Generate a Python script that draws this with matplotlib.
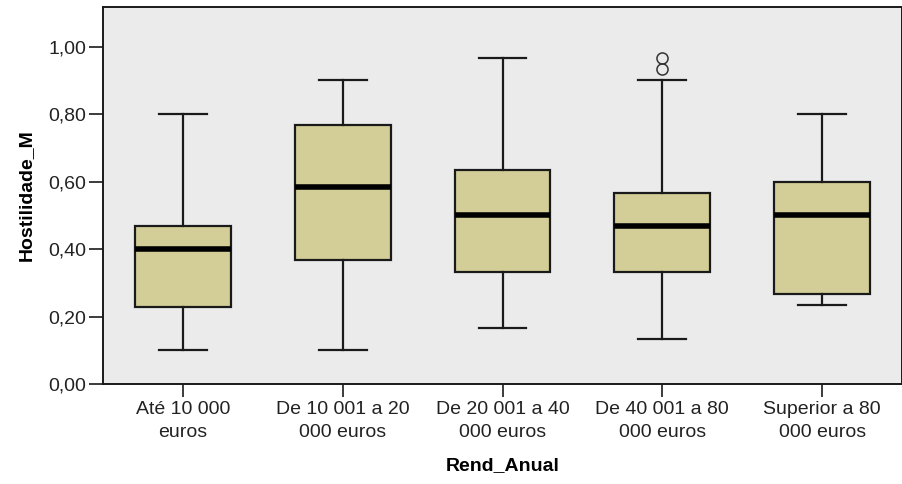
import matplotlib
matplotlib.use("Agg")
import matplotlib.pyplot as plt
from matplotlib.ticker import FuncFormatter

# Box statistics
categories = [
    "Até 10 000\neuros",
    "De 10 001 a 20\n000 euros",
    "De 20 001 a 40\n000 euros",
    "De 40 001 a 80\n000 euros",
    "Superior a 80\n000 euros",
]
whisk_low = [0.10, 0.10, 0.167, 0.133, 0.233]
q1 = [0.229, 0.367, 0.333, 0.333, 0.267]
median = [0.40, 0.583, 0.50, 0.467, 0.50]
q3 = [0.467, 0.767, 0.633, 0.567, 0.60]
whisk_high = [0.80, 0.90, 0.967, 0.90, 0.80]
outliers = [[], [], [], [0.935, 0.967], []]

box_fill = "#D3CE98"
panel_bg = "#EBEBEB"

plt.rcParams["font.family"] = ["Liberation Sans", "DejaVu Sans"]

fig = plt.figure(figsize=(9.03, 4.84), dpi=100)
ax = fig.add_axes([103 / 903, 100 / 484, 799 / 903, 377 / 484])
ax.set_facecolor(panel_bg)

stats = []
for i in range(len(categories)):
    stats.append({
        "whislo": whisk_low[i],
        "q1": q1[i],
        "med": median[i],
        "q3": q3[i],
        "whishi": whisk_high[i],
        "fliers": outliers[i],
    })

ax.bxp(
    stats,
    positions=range(1, len(categories) + 1),
    widths=0.6,
    patch_artist=True,
    showfliers=True,
    boxprops=dict(facecolor=box_fill, edgecolor="#1a1a1a", linewidth=1.6),
    medianprops=dict(color="black", linewidth=4.0, solid_capstyle="butt"),
    whiskerprops=dict(color="#1a1a1a", linewidth=1.6),
    capprops=dict(color="#1a1a1a", linewidth=1.6),
    capwidths=0.3,
    flierprops=dict(marker="o", markersize=8, markerfacecolor="none",
                    markeredgecolor="#333333", markeredgewidth=1.1),
)

ax.set_xlim(0.5, 5.5)
ax.set_ylim(0, 1.1177)
ax.set_yticks([0, 0.2, 0.4, 0.6, 0.8, 1.0])
ax.yaxis.set_major_formatter(FuncFormatter(lambda v, p: f"{v:.2f}".replace(".", ",")))
ax.set_xticks(range(1, len(categories) + 1))
ax.set_xticklabels(categories, fontsize=14, linespacing=1.45)
ax.tick_params(axis="y", labelsize=14, length=10, width=1.2, pad=2, colors="#1a1a1a")
ax.tick_params(axis="x", length=9, width=1.2, pad=3, colors="#1a1a1a")
for lbl in ax.get_yticklabels() + ax.get_xticklabels():
    lbl.set_color("#222222")

for side in ["left", "bottom", "top", "right"]:
    ax.spines[side].set_linewidth(1.4)
    ax.spines[side].set_color("#1a1a1a")

ax.set_xlabel("Rend_Anual", fontsize=14, fontweight="bold", labelpad=12)
ax.set_ylabel("Hostilidade_M", fontsize=14, fontweight="bold", labelpad=10)

fig.savefig("out.png", dpi=100, facecolor="white")
